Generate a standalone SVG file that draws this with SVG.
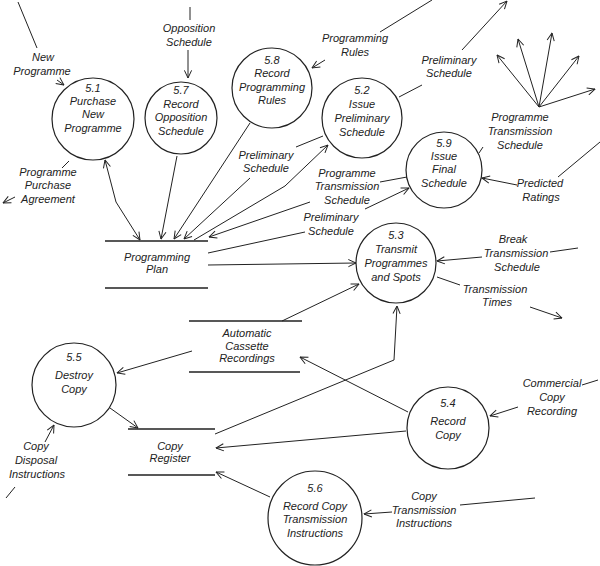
<svg xmlns="http://www.w3.org/2000/svg" width="600" height="566" viewBox="0 0 600 566">
<style>
  .n{fill:none;stroke:#222;stroke-width:1.2}
  .s{fill:none;stroke:#222;stroke-width:1.3}
  .c{fill:none;stroke:#222;stroke-width:1}
  .a{marker-end:url(#ah)}
  .b{marker-start:url(#ah);marker-end:url(#ah)}
  text{font-family:"Liberation Sans",Arial,sans-serif;font-style:italic;font-size:11px;fill:#222;text-anchor:middle}
</style>
<defs>
  <marker id="ah" viewBox="0 0 10 10" refX="9.5" refY="5" markerWidth="9" markerHeight="9" orient="auto-start-reverse" markerUnits="userSpaceOnUse">
    <path d="M1,1 L9.5,5 L1,9" fill="none" stroke="#222" stroke-width="1.1"/>
  </marker>
</defs>
<rect width="600" height="566" fill="#fff"/>

<g id="connectors">
  <!-- New Programme -->
  <path class="c" d="M18,2 L37,48"/>
  <path class="c a" d="M57,80 L64,85"/>
  <!-- Programme Purchase Agreement -->
  <path class="c" d="M69,161 L62,168"/>
  <path class="c a" d="M15,197 L3,203"/>
  <!-- 5.1 <-> Programming Plan -->
  <path class="c b" d="M105,160 L116,202 L140,240"/>
  <!-- Opposition Schedule -->
  <path class="c" d="M190,7 L190,20"/>
  <path class="c a" d="M188,50 L188,78"/>
  <!-- 5.7 -> Plan -->
  <path class="c a" d="M177,156 L161,239"/>
  <!-- 5.8 -> Plan -->
  <path class="c a" d="M250,123 L174,239"/>
  <!-- 5.2 -> Preliminary Schedule -> Plan -->
  <path class="c" d="M323,136 L296,147"/>
  <path class="c a" d="M250,178 L184,239"/>
  <!-- Plan -> 5.2 -->
  <path class="c a" d="M194,240 L285,186 L328,145"/>
  <!-- 5.9 -> Programme Transmission Schedule -> Plan -->
  <path class="c" d="M407,177 L380,182"/>
  <path class="c a" d="M310,202 L209,237"/>
  <!-- Plan -> Preliminary Schedule -> 5.9 -->
  <path class="c" d="M208,253 L305,232"/>
  <path class="c a" d="M365,209 L409,188"/>
  <!-- Plan -> 5.3 -->
  <path class="c a" d="M208,265 L356,263"/>
  <!-- Automatic Cassette Recordings -> 5.3 -->
  <path class="c a" d="M282,321 L359,284"/>
  <!-- Copy Register -> 5.3 -->
  <path class="c a" d="M215,434 L394,360 L397,306"/>
  <!-- 5.4 -> Automatic Cassette Recordings -->
  <path class="c a" d="M408,412 L300,357"/>
  <!-- 5.4 -> Copy Register -->
  <path class="c a" d="M406,431 L216,448"/>
  <!-- Automatic Cassette Recordings -> 5.5 -->
  <path class="c a" d="M192,351 L117,373"/>
  <!-- 5.5 -> Copy Register -->
  <path class="c a" d="M110,408 L138,428"/>
  <!-- Copy Disposal Instructions -> 5.5 -->
  <path class="c" d="M6,498 L15,487"/>
  <path class="c a" d="M45,442 L54,425"/>
  <!-- 5.6 -> Copy Register -->
  <path class="c a" d="M270,497 L216,472"/>
  <!-- Copy Transmission Instructions -> 5.6 -->
  <path class="c" d="M535,498 L460,505"/>
  <path class="c a" d="M392,512 L364,514"/>
  <!-- Commercial Copy Recording -> 5.4 -->
  <path class="c" d="M582,385 L598,380"/>
  <path class="c a" d="M518,407 L490,416"/>
  <!-- Break Transmission Schedule -> 5.3 -->
  <path class="c" d="M550,252 L578,248"/>
  <path class="c a" d="M482,257 L437,261"/>
  <!-- 5.3 -> Transmission Times -->
  <path class="c" d="M437,277 L460,285"/>
  <path class="c a" d="M530,307 L562,318"/>
  <!-- Predicted Ratings -> 5.9 -->
  <path class="c" d="M558,177 L600,142"/>
  <path class="c a" d="M517,185 L482,178"/>
  <!-- 5.9 -> Programme Transmission Schedule (fan) -->
  <path class="c" d="M479,153 L483,147"/>
  <path class="c a" d="M539,107 L497,55"/>
  <path class="c a" d="M539,107 L518,39"/>
  <path class="c a" d="M539,107 L552,33"/>
  <path class="c a" d="M539,107 L579,56"/>
  <path class="c a" d="M539,107 L595,89"/>
  <!-- 5.2 -> Preliminary Schedule (top right) -->
  <path class="c" d="M399,97 L422,85"/>
  <path class="c a" d="M462,50 L507,1"/>
  <!-- Programming Rules -> 5.8 -->
  <path class="c" d="M380,32 L432,0"/>
  <path class="c a" d="M325,60 L312,68"/>

  <text x="43" y="61">New</text>
  <text x="42" y="75">Programme</text>
  <text x="48" y="176">Programme</text>
  <text x="48" y="189">Purchase</text>
  <text x="48" y="203">Agreement</text>
  <text x="189" y="32">Opposition</text>
  <text x="189" y="46">Schedule</text>
  <text x="355" y="42">Programming</text>
  <text x="355" y="56">Rules</text>
  <text x="449" y="64">Preliminary</text>
  <text x="449" y="77">Schedule</text>
  <text x="266" y="159">Preliminary</text>
  <text x="266" y="172">Schedule</text>
  <text x="347" y="177">Programme</text>
  <text x="347" y="190">Transmission</text>
  <text x="347" y="204">Schedule</text>
  <text x="331" y="221">Preliminary</text>
  <text x="331" y="235">Schedule</text>
  <text x="520" y="121">Programme</text>
  <text x="520" y="135">Transmission</text>
  <text x="520" y="149">Schedule</text>
  <text x="540" y="187">Predicted</text>
  <text x="541" y="201">Ratings</text>
  <text x="513" y="243">Break</text>
  <text x="516" y="257">Transmission</text>
  <text x="517" y="271">Schedule</text>
  <text x="495" y="293">Transmission</text>
  <text x="497" y="306">Times</text>
  <text x="552" y="387">Commercial</text>
  <text x="552" y="401">Copy</text>
  <text x="552" y="415">Recording</text>
  <text x="424" y="500">Copy</text>
  <text x="424" y="514">Transmission</text>
  <text x="424" y="527">Instructions</text>
  <text x="36" y="450">Copy</text>
  <text x="36" y="464">Disposal</text>
  <text x="37" y="478">Instructions</text>
</g>

<g id="p51">
  <circle class="n" cx="93" cy="119" r="41"/>
  <text x="93" y="92">5.1</text>
  <text x="93" y="105">Purchase</text>
  <text x="93" y="118">New</text>
  <text x="93" y="132">Programme</text>
</g>
<g id="p57">
  <circle class="n" cx="181" cy="118" r="36"/>
  <text x="181" y="94">5.7</text>
  <text x="181" y="108">Record</text>
  <text x="181" y="121">Opposition</text>
  <text x="181" y="135">Schedule</text>
</g>
<g id="p58">
  <circle class="n" cx="272" cy="88" r="40"/>
  <text x="272" y="64">5.8</text>
  <text x="272" y="77">Record</text>
  <text x="272" y="91">Programming</text>
  <text x="272" y="104">Rules</text>
</g>
<g id="p52">
  <circle class="n" cx="362" cy="118" r="40"/>
  <text x="362" y="94">5.2</text>
  <text x="362" y="108">Issue</text>
  <text x="362" y="122">Preliminary</text>
  <text x="362" y="136">Schedule</text>
</g>
<g id="p59">
  <circle class="n" cx="444" cy="170" r="38"/>
  <text x="444" y="147">5.9</text>
  <text x="444" y="160">Issue</text>
  <text x="444" y="173">Final</text>
  <text x="444" y="187">Schedule</text>
</g>
<g id="p53">
  <circle class="n" cx="396" cy="263" r="40"/>
  <text x="396" y="239">5.3</text>
  <text x="396" y="253">Transmit</text>
  <text x="396" y="267">Programmes</text>
  <text x="396" y="281">and Spots</text>
</g>
<g id="p55">
  <circle class="n" cx="74" cy="385" r="42"/>
  <text x="74" y="361">5.5</text>
  <text x="74" y="379">Destroy</text>
  <text x="74" y="393">Copy</text>
</g>
<g id="p54">
  <circle class="n" cx="448" cy="428" r="41"/>
  <text x="448" y="407">5.4</text>
  <text x="448" y="425">Record</text>
  <text x="448" y="439">Copy</text>
</g>
<g id="p56">
  <circle class="n" cx="315" cy="518" r="47"/>
  <text x="315" y="492">5.6</text>
  <text x="315" y="510">Record Copy</text>
  <text x="315" y="523">Transmission</text>
  <text x="315" y="537">Instructions</text>
</g>
<g id="ds-programming-plan">
  <path class="s" d="M105,241 H208 M105,288 H208"/>
  <text x="157" y="261">Programming</text>
  <text x="157" y="273">Plan</text>
</g>
<g id="ds-automatic-cassette">
  <path class="s" d="M189,321 H302 M189,372 H300"/>
  <text x="247" y="337">Automatic</text>
  <text x="247" y="350">Cassette</text>
  <text x="247" y="362">Recordings</text>
</g>
<g id="ds-copy-register">
  <path class="s" d="M128,429 H215 M128,475 H215"/>
  <text x="170" y="450">Copy</text>
  <text x="170" y="462">Register</text>
</g>
</svg>
